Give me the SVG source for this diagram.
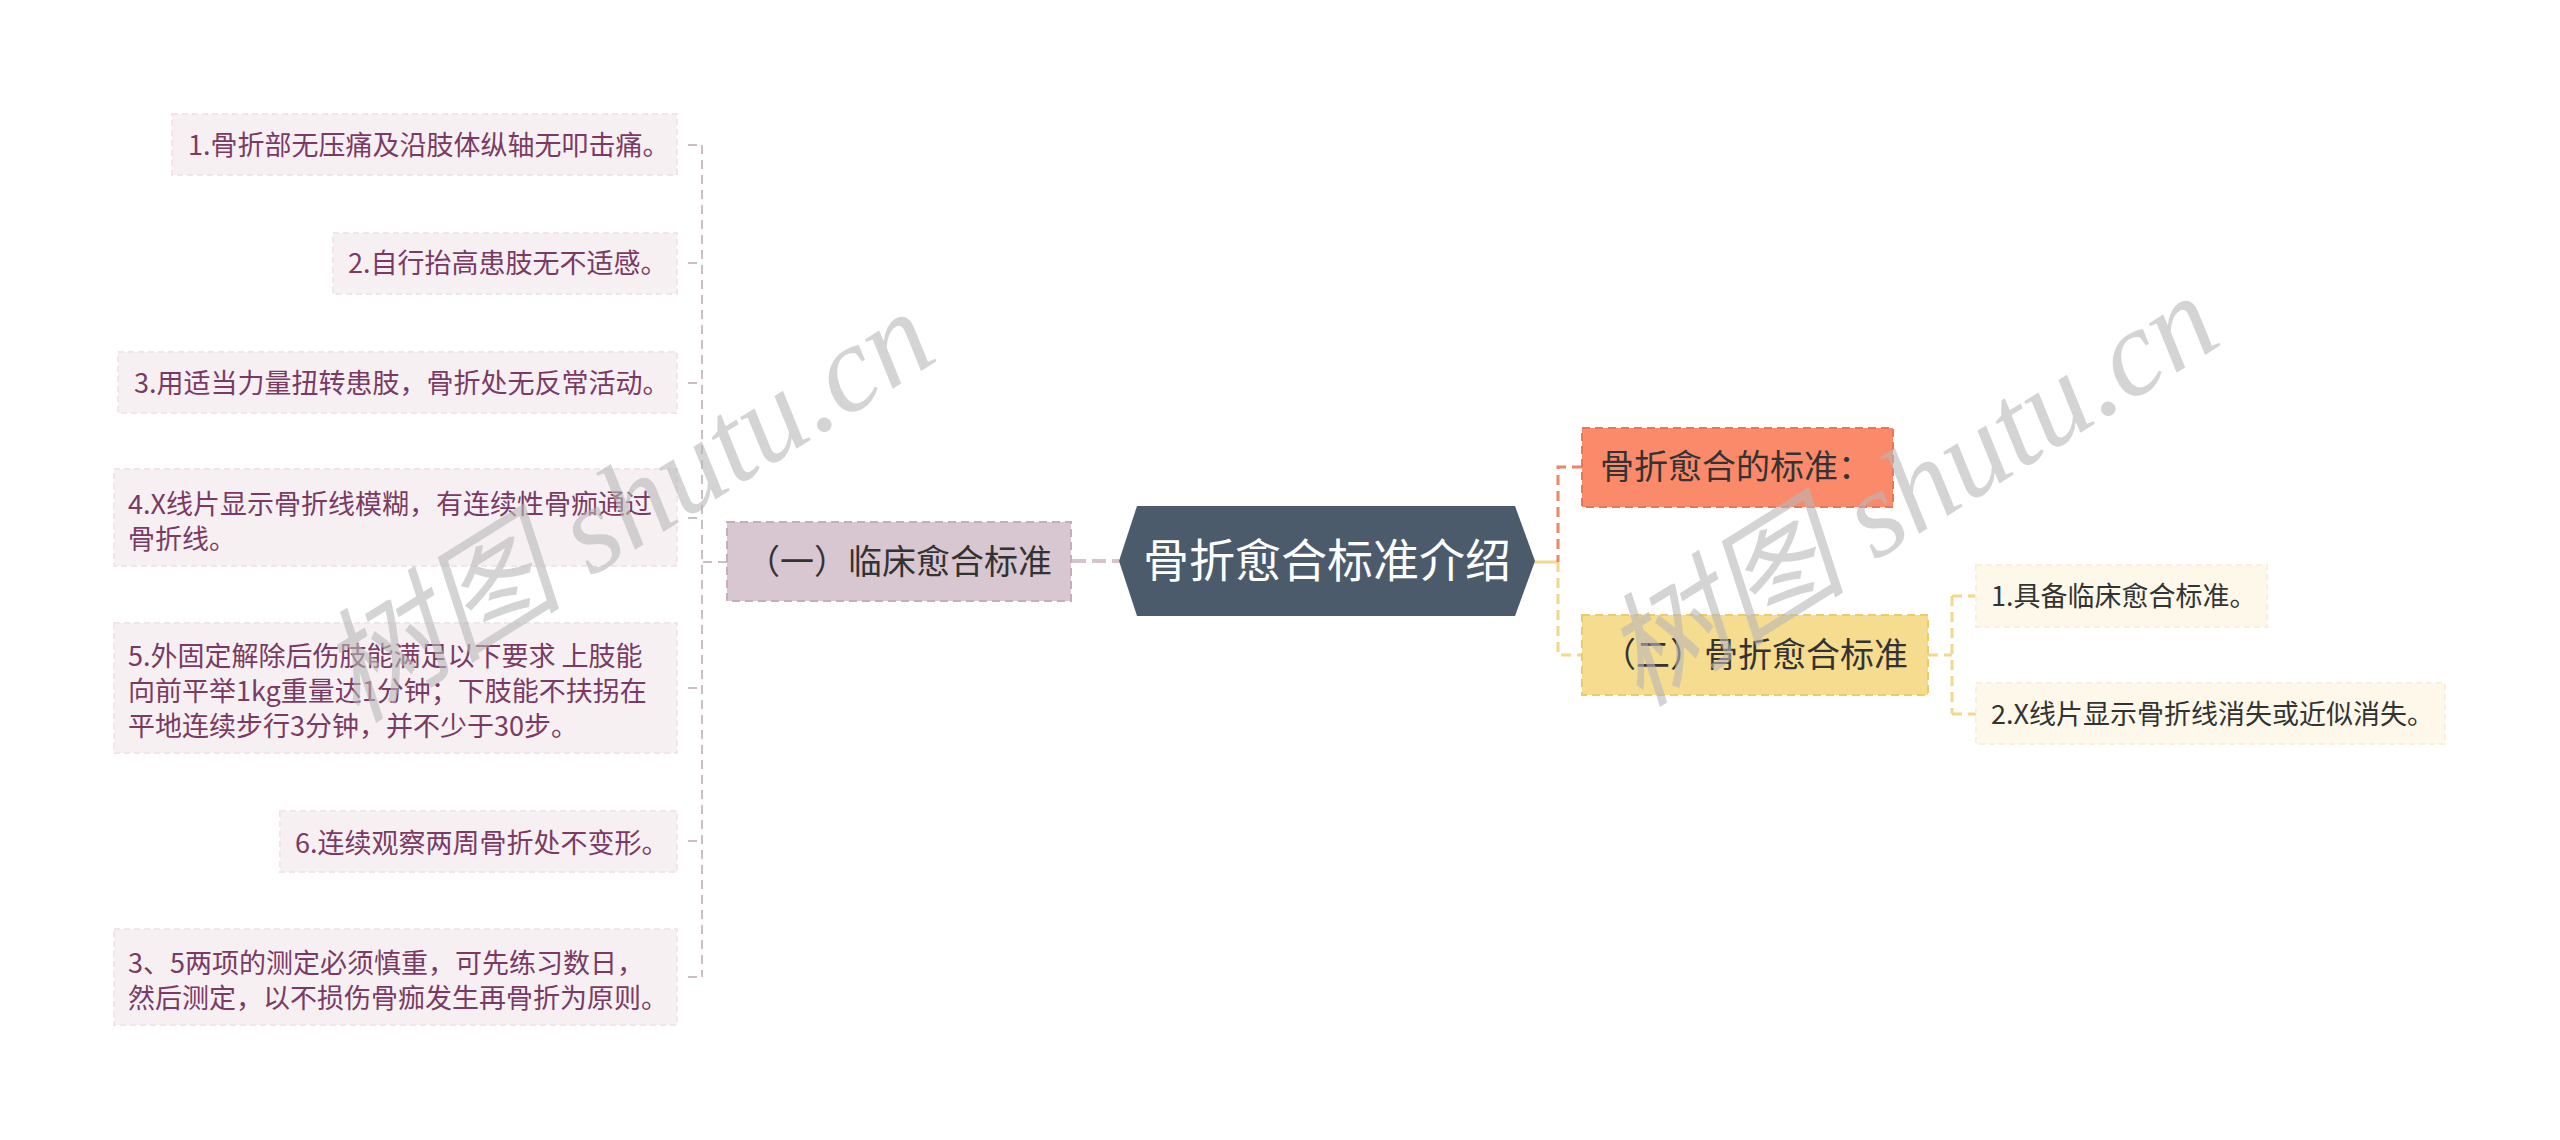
<svg xmlns="http://www.w3.org/2000/svg" width="2560" height="1140" viewBox="0 0 2560 1140">
<style>
.leafL{fill:#f6f0f3;stroke:#efe5ea;stroke-width:2;stroke-dasharray:6 4}
.tL{font-family:"Noto Sans CJK SC","Noto Sans",sans-serif;font-size:27px;fill:#7b3a63}
.tR{font-family:"Noto Sans CJK SC","Noto Sans",sans-serif;font-size:27px;fill:#333333}
.tN{font-family:"Noto Sans CJK SC","Noto Sans",sans-serif;font-size:34px;fill:#333333}
.leafR{fill:#fdf8ea;stroke:#f8f0da;stroke-width:2;stroke-dasharray:6 4}
.cL{fill:none;stroke:#cbbfc5;stroke-width:2;stroke-dasharray:9 6}
.cO{fill:none;stroke:#ec8467;stroke-width:3;stroke-dasharray:10 6}
.cY{fill:none;stroke:#f1d88a;stroke-width:3;stroke-dasharray:10 6}
.wm{font-family:"Liberation Serif","Noto Sans CJK SC",serif;font-size:123px;font-style:italic;fill:#b8b8b8;fill-opacity:0.6}
</style>
<rect width="2560" height="1140" fill="#ffffff"/>
<g id="connectors">
<path class="cL" d="M727 562 H702"/>
<path class="cL" d="M702 145 V977"/>
<path class="cL" d="M688 145 H702 M688 263 H702 M688 383 H702 M688 518 H702 M688 688 H702 M688 841 H702 M688 977 H702"/>
<path d="M1072 561 H1119" fill="none" stroke="#d5c4cd" stroke-width="4" stroke-dasharray="14 6"/>
<path d="M1533 562 H1558" fill="none" stroke="#f1d88a" stroke-width="3"/>
<path class="cO" d="M1582 467 H1558 V562"/>
<path class="cY" d="M1558 562 V655 H1582"/>
<path class="cY" d="M1928 655 H1952 M1952 596 V714 M1952 596 H1976 M1952 714 H1976"/>
</g>
<g id="center">
<polygon points="1119,561 1137,506 1515,506 1535,561 1515,616 1137,616" fill="#4b5b6b"/>
<text x="1327" y="577" text-anchor="middle" font-family="'Noto Sans CJK SC','Noto Sans',sans-serif" font-size="46" fill="#ffffff">骨折愈合标准介绍</text>
</g>
<g id="n-clinical">
<rect x="727" y="522" width="344" height="79" fill="#d8c7d0" stroke="#c7adbb" stroke-width="2" stroke-dasharray="8 5"/>
<text class="tN" x="899" y="574" text-anchor="middle">（一）临床愈合标准</text>
</g>
<g id="n-l1">
<rect class="leafL" x="172" y="114" width="505" height="61"/>
<text class="tL" x="188" y="155">1.骨折部无压痛及沿肢体纵轴无叩击痛。</text>
</g>
<g id="n-l2">
<rect class="leafL" x="333" y="233" width="344" height="61"/>
<text class="tL" x="348" y="273">2.自行抬高患肢无不适感。</text>
</g>
<g id="n-l3">
<rect class="leafL" x="118" y="352" width="559" height="61"/>
<text class="tL" x="134" y="393">3.用适当力量扭转患肢，骨折处无反常活动。</text>
</g>
<g id="n-l4">
<rect class="leafL" x="114" y="469" width="563" height="97"/>
<text class="tL" x="128" y="514">4.X线片显示骨折线模糊，有连续性骨痂通过</text>
<text class="tL" x="128" y="549">骨折线。</text>
</g>
<g id="n-l5">
<rect class="leafL" x="114" y="623" width="563" height="130"/>
<text class="tL" x="128" y="666">5.外固定解除后伤肢能满足以下要求 上肢能</text>
<text class="tL" x="128" y="701">向前平举1kg重量达1分钟；下肢能不扶拐在</text>
<text class="tL" x="128" y="736">平地连续步行3分钟，并不少于30步。</text>
</g>
<g id="n-l6">
<rect class="leafL" x="280" y="811" width="397" height="61"/>
<text class="tL" x="295" y="853">6.连续观察两周骨折处不变形。</text>
</g>
<g id="n-l7">
<rect class="leafL" x="114" y="929" width="563" height="96"/>
<text class="tL" x="128" y="973">3、5两项的测定必须慎重，可先练习数日，</text>
<text class="tL" x="128" y="1008">然后测定，以不损伤骨痂发生再骨折为原则。</text>
</g>
<g id="n-standard">
<rect x="1582" y="428" width="311" height="79" fill="#fa8a6a" stroke="#e8765a" stroke-width="2" stroke-dasharray="8 5"/>
<text class="tN" x="1600" y="479">骨折愈合的标准：</text>
</g>
<g id="n-healing">
<rect x="1582" y="615" width="346" height="80" fill="#f6dc8e" stroke="#ecca6e" stroke-width="2" stroke-dasharray="8 5"/>
<text class="tN" x="1755" y="667" text-anchor="middle">（二）骨折愈合标准</text>
</g>
<g id="n-r1">
<rect class="leafR" x="1976" y="565" width="291" height="62"/>
<text class="tR" x="1991" y="606">1.具备临床愈合标准。</text>
</g>
<g id="n-r2">
<rect class="leafR" x="1976" y="683" width="469" height="61"/>
<text class="tR" x="1991" y="724">2.X线片显示骨折线消失或近似消失。</text>
</g>
<g id="watermarks">
<text class="wm" transform="translate(356,724) rotate(-32)">树图 shutu.cn</text>
<text class="wm" transform="translate(1640,708) rotate(-32)">树图 shutu.cn</text>
</g>
</svg>
